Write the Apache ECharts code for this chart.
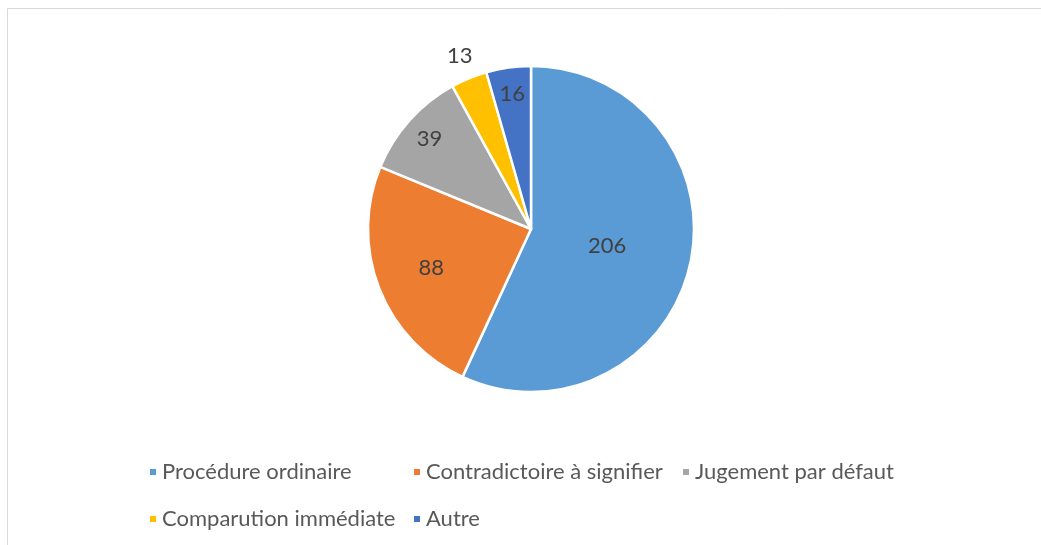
<!DOCTYPE html>
<html><head><meta charset="utf-8">
<script src="https://cdn.jsdelivr.net/npm/echarts@6/dist/echarts.min.js"></script>
<style>html,body{margin:0;padding:0;background:#fff}#c{width:1041px;height:545px}</style>
</head><body><div id="c"></div>
<script>
const categories = ['Procédure ordinaire', 'Contradictoire à signifier', 'Jugement par défaut', 'Comparution immédiate', 'Autre'];
const values = [206, 88, 39, 13, 16];
const colors = ['#5B9BD5', '#ED7D31', '#A5A5A5', '#FFC000', '#4472C4'];

const FONT = 'Lato';
const CX = 531, CY = 229, R = 163;
const labelFont = { fontFamily: FONT, fontSize: 22, color: '#404040' };

function pieData(showIdx, hidden) {
  return categories.map((n, i) => ({
    name: n, value: values[i],
    itemStyle: hidden ? { color: 'rgba(0,0,0,0)', borderWidth: 0 } : { color: colors[i] },
    label: { show: showIdx.indexOf(i) >= 0 }
  }));
}
function labelSeries(radius, showIdx) {
  return {
    type: 'pie', center: [CX, CY], radius: [0, radius], startAngle: 90, clockwise: true,
    silent: true, animation: false, legendHoverLink: false,
    label: Object.assign({ position: 'inside', formatter: '{c}' }, labelFont),
    labelLine: { show: false }, emphasis: { disabled: true },
    data: pieData(showIdx, true), z: 5
  };
}

const chart = echarts.init(document.getElementById('c'));
chart.setOption({
  animation: false,
  color: colors,
  graphic: [{ type: 'rect', shape: { x: 7.5, y: 8.5, width: 1100, height: 600 }, style: { fill: 'none', stroke: '#d9d9d9', lineWidth: 1 }, silent: true }],
  legend: {
    left: 143, top: 449, width: 770, orient: 'horizontal',
    icon: 'rect', itemWidth: 8, itemHeight: 8, itemGap: 11,
    textStyle: { fontFamily: FONT, fontSize: 22, color: '#595959', lineHeight: 36 },
    data: [
      { name: categories[0], textStyle: { width: 239 } },
      { name: categories[1], textStyle: { width: 244 } },
      { name: categories[2] },
      { name: categories[3], textStyle: { width: 239 } },
      { name: categories[4] }
    ]
  },
  series: [
    {
      type: 'pie', center: [CX, CY], radius: [0, R], startAngle: 90, clockwise: true,
      animation: false,
      itemStyle: { borderColor: '#fff', borderWidth: 2.5 },
      label: { show: false },
      labelLine: { show: false }, emphasis: { disabled: true },
      data: pieData([], false)
    },
    labelSeries(150, [0]),
    labelSeries(208, [1]),
    labelSeries(266, [2, 4]),
    labelSeries(368, [3])
  ]
});
</script></body></html>
